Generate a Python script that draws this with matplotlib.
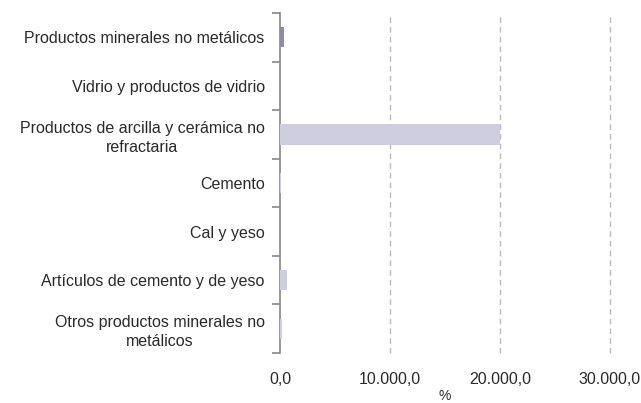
import numpy as np
import matplotlib.pyplot as plt

plt.rcParams['font.family'] = ['Liberation Sans', 'DejaVu Sans']

categories = ['Productos minerales no metálicos',
              'Vidrio y productos de vidrio',
              'Productos de arcilla y cerámica no\nrefractaria',
              'Cemento',
              'Cal y yeso',
              'Artículos de cemento y de yeso',
              'Otros productos minerales no\nmetálicos']
values = [350, 40, 20000, 60, 40, 600, 200]
colors = ['#8d89a9', '#cfcde0', '#cfcde0', '#cfcde0', '#cfcde0', '#cfcde0', '#cfcde0']
xticks = [0, 10000, 20000, 30000]
xticklabels = ['0,0', '10.000,0', '20.000,0', '30.000,0']

fig = plt.figure(figsize=(6.41, 4.03), dpi=100)
ax = fig.add_axes([280 / 641, 1 - 353 / 403, 330 / 641, 340 / 403])

y = np.arange(len(categories))
ax.barh(y, values, height=0.42, color=colors, zorder=3)
ax.set_ylim(len(categories) - 0.5, -0.5)
ax.set_xlim(0, 30000)

ax.set_yticks(y)
ax.set_yticklabels(categories, fontsize=11.5, color='#2a2a2a', ha='right',
                   multialignment='center', linespacing=1.35)
ax.set_yticks(np.arange(-0.5, len(categories)), minor=True)
ax.tick_params(axis='y', which='major', length=0, pad=11)
ax.tick_params(axis='y', which='minor', length=6, color='#888888', width=1.2)

ax.set_xticks(xticks)
ax.set_xticklabels(xticklabels, fontsize=11.5, color='#2a2a2a')
ax.tick_params(axis='x', length=0, pad=14)
ax.set_xlabel('%', fontsize=10, color='#2a2a2a', labelpad=1)

for x in xticks[1:]:
    ax.axvline(x, color='#bbbbbb', ls=(0, (4, 3)), lw=1, zorder=1, clip_on=False)

for s in ['top', 'right', 'bottom']:
    ax.spines[s].set_visible(False)
ax.spines['left'].set_color('#888888')
ax.spines['left'].set_linewidth(1.2)

fig.savefig('out.png', dpi=100)
